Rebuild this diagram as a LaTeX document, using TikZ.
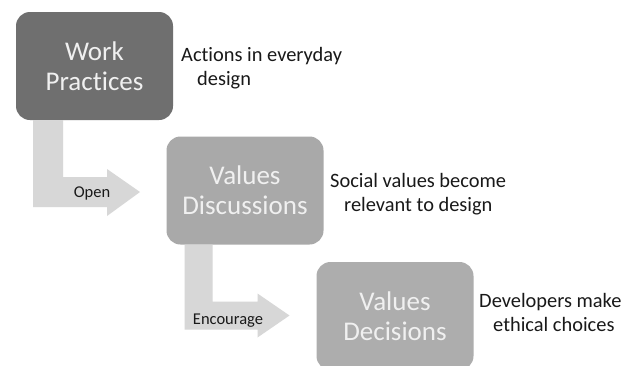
\documentclass[tikz,border=0pt]{standalone}
\usepackage{fontspec}
\setmainfont{Carlito}[Ligatures=NoCommon]
\definecolor{darkbox}{HTML}{6F6F6F}
\definecolor{midbox}{HTML}{A9A9A9}
\definecolor{lightbox}{HTML}{ADADAD}
\definecolor{arrowgray}{HTML}{D7D7D7}
\definecolor{boxtext}{HTML}{F0F0F0}
\begin{document}
\begin{tikzpicture}[x=1pt,y=-1pt,
	stage/.style={rounded corners=14pt, minimum width=157pt, minimum height=108pt,
		inner sep=0pt, outer sep=0pt, align=center, text=boxtext,
		font=\fontsize{27}{30}\selectfont},
	note/.style={anchor=base west, align=left, inner sep=0pt, text=black!90,
		font=\fontsize{20.4}{23.5}\selectfont},
	tag/.style={inner sep=0pt, text=black!90, font=\fontsize{16.5}{18}\selectfont}]
	\useasboundingbox (0,0) rectangle (632,365);
	\clip (0,0) rectangle (632,365);
	\fill[white] (0,0) rectangle (632,365);
	% stages
	\node[stage, fill=darkbox] (wp) at (94.5,66) {Work\\Practices};
	\node[stage, fill=midbox] (vdisc) at (245,190.5) {Values\\Discussions};
	\node[stage, fill=lightbox] (vdec) at (395,316) {Values\\Decisions};
	% bent arrows
	\fill[arrowgray] ([xshift=17pt]wp.south west) -- ++(30,0) -- ++(0,57) -- ++(44,0)
		-- ++(0,-8) -- ++(33,23) -- ++(-33,24) -- ++(0,-9) -- ++(-74,0) -- cycle;
	\fill[arrowgray] ([xshift=18pt]vdisc.south west) -- ++(28,0) -- ++(0,57) -- ++(45,0)
		-- ++(0,-8) -- ++(32,22) -- ++(-32,22) -- ++(0,-8) -- ++(-73,0) -- cycle;
	\node[tag] (open) at (92,193) {Open};
	\node[tag] (enc) at (228,321) {Encourage};
	% descriptions (base = last line)
	\node[note] (d1) at (181,85) {Actions in everyday\\\hspace{16pt}design};
	\node[note] (d2) at (330,211) {Social values become\\\hspace{14pt}relevant to design};
	\node[note] (d3) at (479,331) {Developers make\\\hspace{14pt}ethical choices};
\end{tikzpicture}
\end{document}
